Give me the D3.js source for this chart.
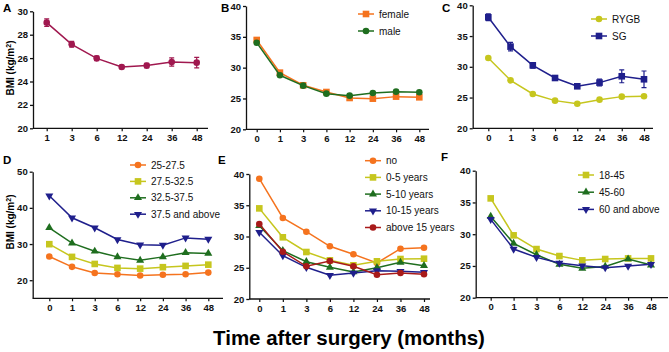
<!DOCTYPE html>
<html>
<head>
<meta charset="utf-8">
<style>
  body { margin: 0; background: #fff; }
  svg { font-family: 'Liberation Sans', Arial, sans-serif; }
  .tick text { font-size: 9.5px; font-weight: bold; fill: #111; }
  .legend text { font-size: 10px; fill: #111; }
</style>
</head>
<body>
<svg width="669" height="352"></svg>
<script src="https://d3js.org/d3.v7.min.js"></script>
<script>
// ---- data ----
const monthsA = [1, 3, 6, 12, 24, 36, 48];
const months = [0, 1, 3, 6, 12, 24, 36, 48];

const allBMI = [29.03, 27.18, 25.98, 25.24, 25.36, 25.67, 25.61];
const allErr = [0.33, 0.25, 0.2, 0.15, 0.2, 0.35, 0.45];

const female = [34.49, 29.19, 27.14, 26.05, 25.08, 24.97, 25.3, 25.19];
const male = [34.05, 28.76, 27.08, 25.78, 25.46, 25.89, 26.11, 26.0];

const rygb = [31.44, 27.8, 25.58, 24.5, 24.0, 24.66, 25.15, 25.2];
const sg = [38.05, 33.28, 30.24, 28.18, 26.83, 27.43, 28.46, 27.97];
const sgErr = [0.55, 0.7, 0.45, 0.3, 0.25, 0.55, 1.05, 1.35];

const bmi25 = [26.55, 23.7, 22.0, 21.65, 21.3, 21.5, 21.65, 22.1];
const bmi27 = [29.96, 26.45, 24.5, 23.4, 23.2, 23.6, 23.96, 24.3];
const bmi32 = [34.5, 30.25, 28.0, 26.45, 25.5, 26.45, 27.6, 27.4];
const bmi37 = [43.35, 37.26, 34.5, 31.26, 29.8, 29.7, 31.7, 31.35];

const diabNo = [39.25, 32.96, 30.77, 28.43, 27.15, 25.76, 28.05, 28.2];
const diab0 = [34.5, 29.87, 27.52, 26.19, 25.39, 26.03, 26.4, 26.45];
const diab5 = [31.73, 27.73, 25.97, 25.07, 24.32, 25.01, 25.87, 25.33];
const diab10 = [30.67, 26.93, 25.07, 23.79, 24.16, 24.53, 24.43, 24.27];
const diab15 = [32.0, 27.57, 25.23, 26.08, 25.23, 23.89, 24.16, 23.95];

const age18 = [35.64, 29.82, 27.66, 26.56, 25.88, 26.09, 26.19, 26.19];
const age45 = [32.8, 28.56, 26.77, 25.25, 24.62, 24.93, 26.09, 25.14];
const age60 = [32.33, 27.66, 26.35, 25.46, 25.04, 24.73, 24.99, 25.25];

const colors = {
  crimson: "#a0184f", orange: "#f5731e", yellow: "#c6c61e",
  green: "#1f6e1f", navy: "#1f1f8c", red: "#a81a1a"
};

const svg = d3.select("svg");

function marker(g, shape, color, x, y) {
  if (shape == "circle") {
    g.append("circle").attr("cx", x).attr("cy", y).attr("r", 3.3).style("fill", color);
  } else if (shape == "square") {
    g.append("rect").attr("x", x - 3.3).attr("y", y - 3.3)
      .attr("width", 6.6).attr("height", 6.6).style("fill", color);
  } else {
    // triangles, "down" is just the same one flipped
    g.append("path")
      .attr("d", d3.symbol().type(d3.symbolTriangle).size(28)())
      .attr("transform", `translate(${x},${y}) rotate(${shape == "up" ? 0 : 180})`)
      .style("fill", color);
  }
}

function panel(p) {
  let g = svg.append("g");

  let y = d3.scaleLinear().domain(p.yDomain).range([p.bottom, p.top]);
  let x = d3.scalePoint().domain(p.cats).range([p.x0, p.x1]);

  // y axis
  g.append("g")
    .attr("transform", `translate(${p.left},0)`)
    .call(d3.axisLeft(y).tickValues(p.yTicks).tickSize(3).tickSizeOuter(0).tickPadding(2))
    .call(a => a.selectAll("line,path").style("stroke", "#111").style("stroke-width", 1.3));

  // x axis
  let xa = g.append("g")
    .attr("transform", `translate(0,${p.bottom})`)
    .call(d3.axisBottom(x).tickSize(3).tickPadding(3))
  xa.select(".domain").remove()
  xa.selectAll("line").style("stroke", "#111").style("stroke-width", 1.2)
  g.append("line")
    .attr("x1", p.left).attr("x2", p.right)
    .attr("y1", p.bottom).attr("y2", p.bottom)
    .style("stroke", "#111").style("stroke-width", 1.3)

  // panel letter
  g.append("text").attr("x", p.letterX).attr("y", p.letterY)
    .text(p.letter)
    .style("font-size", "11.5px").style("font-weight", "bold")

  if (p.ylabel) {
    let t = g.append("text")
      .attr("transform", `translate(${p.ylabelX},${p.ylabelY}) rotate(-90)`)
      .attr("text-anchor", "middle")
      .style("font-size", "10px").style("font-weight", "bold")
    t.append("tspan").text("BMI (kg/m")
    t.append("tspan").text("2").attr("dy", -3).style("font-size", "7px")
    t.append("tspan").text(")").attr("dy", 3)
  }

  let line = d3.line().x((d, i) => x(p.cats[i])).y(d => y(d));

  p.series.forEach(s => {
    let sg = g.append("g");
    if (s.err) {
      s.values.forEach((v, i) => {
        let cx = x(p.cats[i]);
        let e = s.err[i];
        sg.append("path")
          .attr("d", `M${cx},${y(v - e)}V${y(v + e)}M${cx - 2.5},${y(v - e)}h5M${cx - 2.5},${y(v + e)}h5`)
          .style("stroke", s.color).style("stroke-width", 1.2).style("fill", "none")
      })
    }
    sg.append("path")
      .attr("d", line(s.values))
      .style("fill", "none").style("stroke", s.color).style("stroke-width", 1.5)
    s.values.forEach((v, i) => marker(sg, s.shape, s.color, x(p.cats[i]), y(v)))
  });

  if (p.legend) {
    let lg = g.append("g").attr("class", "legend");
    p.series.forEach((s, i) => {
      let ly = p.legend.y + i * p.legend.dy;
      lg.append("line")
        .attr("x1", p.legend.x).attr("x2", p.legend.x + 16)
        .attr("y1", ly).attr("y2", ly)
        .style("stroke", s.color).style("stroke-width", 1.5)
      marker(lg, s.shape, s.color, p.legend.x + 8, ly)
      lg.append("text").attr("x", p.legend.x + 21).attr("y", ly).attr("dy", "0.35em").text(s.name)
    });
  }
}

panel({
  letter: "A", letterX: 3, letterY: 12,
  left: 33, right: 208, top: 11.3, bottom: 128.3, x0: 46.7, x1: 196.7,
  cats: monthsA, yDomain: [20, 30], yTicks: [20, 22, 24, 26, 28, 30],
  ylabel: true, ylabelX: 14, ylabelY: 68,
  series: [{ name: "all", values: allBMI, err: allErr, color: colors.crimson, shape: "circle" }]
});

panel({
  letter: "B", letterX: 221, letterY: 12,
  left: 246, right: 429, top: 6, bottom: 129.3, x0: 256.7, x1: 419.3,
  cats: months, yDomain: [20, 40], yTicks: [20, 25, 30, 35, 40],
  legend: { x: 358, y: 14, dy: 17 },
  series: [
    { name: "female", values: female, color: colors.orange, shape: "square" },
    { name: "male", values: male, color: colors.green, shape: "circle" }
  ]
});

panel({
  letter: "C", letterX: 442, letterY: 12,
  left: 472.7, right: 653, top: 5.3, bottom: 128.3, x0: 488.3, x1: 644,
  cats: months, yDomain: [20, 40], yTicks: [20, 25, 30, 35, 40],
  legend: { x: 591, y: 19, dy: 17 },
  series: [
    { name: "RYGB", values: rygb, color: colors.yellow, shape: "circle" },
    { name: "SG", values: sg, err: sgErr, color: colors.navy, shape: "square" }
  ]
});

panel({
  letter: "D", letterX: 3, letterY: 164,
  left: 32.7, right: 223, top: 171.7, bottom: 298.3, x0: 49.3, x1: 208.3,
  cats: months, yDomain: [15, 50], yTicks: [20, 30, 40, 50],
  ylabel: true, ylabelX: 14, ylabelY: 222,
  legend: { x: 130, y: 165, dy: 16.4 },
  series: [
    { name: "25-27.5", values: bmi25, color: colors.orange, shape: "circle" },
    { name: "27.5-32.5", values: bmi27, color: colors.yellow, shape: "square" },
    { name: "32.5-37.5", values: bmi32, color: colors.green, shape: "up" },
    { name: "37.5 and above", values: bmi37, color: colors.navy, shape: "down" }
  ]
});

panel({
  letter: "E", letterX: 218, letterY: 164,
  left: 249.3, right: 430, top: 174, bottom: 299, x0: 259.3, x1: 424,
  cats: months, yDomain: [20, 40], yTicks: [20, 25, 30, 35, 40],
  legend: { x: 365, y: 160.7, dy: 16.7 },
  series: [
    { name: "no", values: diabNo, color: colors.orange, shape: "circle" },
    { name: "0-5 years", values: diab0, color: colors.yellow, shape: "square" },
    { name: "5-10 years", values: diab5, color: colors.green, shape: "up" },
    { name: "10-15 years", values: diab10, color: colors.navy, shape: "down" },
    { name: "above 15 years", values: diab15, color: colors.red, shape: "circle" }
  ]
});

panel({
  letter: "F", letterX: 441, letterY: 161,
  left: 475.7, right: 668, top: 170.7, bottom: 297.7, x0: 490.7, x1: 651,
  cats: months, yDomain: [20, 40], yTicks: [20, 25, 30, 35, 40],
  legend: { x: 578, y: 175, dy: 17.2 },
  series: [
    { name: "18-45", values: age18, color: colors.yellow, shape: "square" },
    { name: "45-60", values: age45, color: colors.green, shape: "up" },
    { name: "60 and above", values: age60, color: colors.navy, shape: "down" }
  ]
});

svg.append("text")
  .attr("x", 349).attr("y", 345)
  .attr("text-anchor", "middle")
  .style("font-size", "20.5px").style("font-weight", "bold")
  .text("Time after surgery (months)");
</script>
</body>
</html>
